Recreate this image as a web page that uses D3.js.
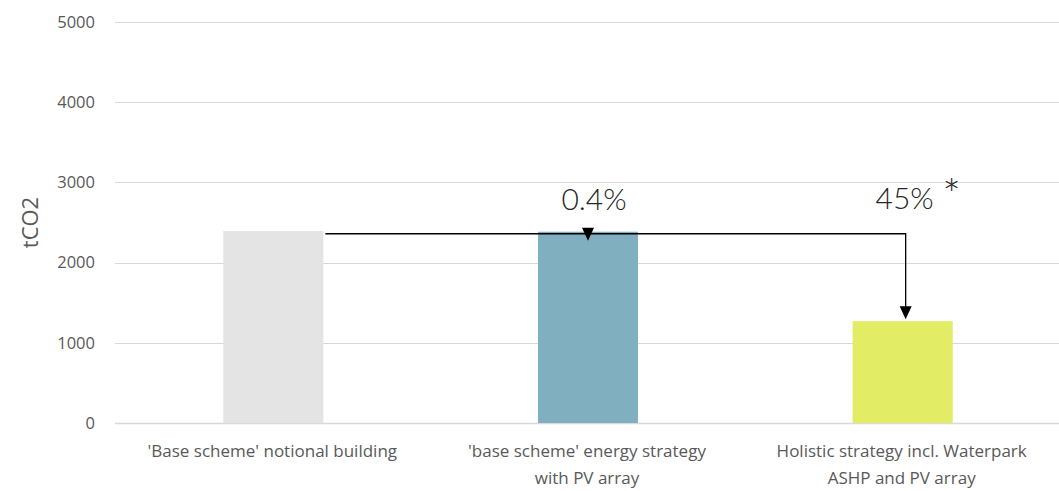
<!DOCTYPE html>
<html>
<head>
<meta charset="utf-8">
<script src="https://cdn.jsdelivr.net/npm/d3@7"></script>
<style>
  html, body { margin: 0; padding: 0; background: #fff; }
  svg { display: block; }
</style>
</head>
<body>
<svg id="chart" width="1059" height="491"></svg>
<script>
// Emissions per scheme (tCO2)
const categories = [
  ["'Base scheme' notional building"],
  ["'base scheme' energy strategy", "with PV array"],
  ["Holistic strategy incl. Waterpark", "ASHP and PV array"]
];
const values = [2395, 2385, 1270];
const colors = ["#e4e4e4", "#80afc0", "#e2ec64"];
const yTicks = [0, 1000, 2000, 3000, 4000, 5000];
// Reduction callouts relative to the base scheme
const savingLabels = ["0.4%", "45%"];
const connectorLevel = 2360;

const svg = d3.select("#chart");
const W = 1059, H = 491;
const margin = { left: 115, right: 0, top: 22, bottom: 68 };

const x = d3.scaleBand()
  .domain(d3.range(categories.length))
  .range([margin.left, W - margin.right])
  .padding(0);

const y = d3.scaleLinear()
  .domain([0, 5000])
  .range([H - margin.bottom, margin.top]);

const barW = x.bandwidth() * 0.318;
const textColor = "#595959";

// Gridlines
svg.append("g")
  .selectAll("line")
  .data(yTicks)
  .join("line")
  .attr("x1", margin.left)
  .attr("x2", W)
  .attr("y1", d => Math.round(y(d)) + 0.5)
  .attr("y2", d => Math.round(y(d)) + 0.5)
  .attr("stroke", "#d9d9d9")
  .attr("stroke-width", d => d === 0 ? 1.5 : 1);

// Y axis tick labels
const yAxis = d3.axisLeft(y).tickValues(yTicks).tickFormat(d3.format("d")).tickSize(0).tickPadding(0);
const gy = svg.append("g")
  .attr("transform", `translate(${margin.left - 20},0)`)
  .call(yAxis);
gy.select(".domain").remove();
gy.selectAll("text")
  .attr("font-family", "Open Sans, sans-serif")
  .attr("font-size", 16.5)
  .attr("fill", textColor);

// Y axis title
svg.append("text")
  .attr("transform", `translate(38,${(y(2000) + y(3000)) / 2}) rotate(-90)`)
  .attr("text-anchor", "middle")
  .attr("font-family", "Open Sans, sans-serif")
  .attr("font-size", 22)
  .attr("fill", textColor)
  .text("tCO2");

// Bars
svg.append("g")
  .selectAll("rect")
  .data(values)
  .join("rect")
  .attr("x", (d, i) => x(i) + (x.bandwidth() - barW) / 2 + 1)
  .attr("y", d => y(d))
  .attr("width", barW)
  .attr("height", d => y(0) - y(d))
  .attr("fill", (d, i) => colors[i]);

// Category labels
const catG = svg.append("g");
categories.forEach((lines, i) => {
  const t = catG.append("text")
    .attr("x", x(i) + x.bandwidth() / 2)
    .attr("y", 457)
    .attr("text-anchor", "middle")
    .attr("font-family", "Open Sans, sans-serif")
    .attr("font-size", 17)
    .attr("fill", textColor);
  lines.forEach((ln, k) => {
    t.append("tspan")
      .attr("x", x(i) + x.bandwidth() / 2)
      .attr("dy", k === 0 ? 0 : 27)
      .text(ln);
  });
});

// Connector from base bar across to the holistic bar
const cx1 = x(0) + (x.bandwidth() + barW) / 2 + 3;
const cx2 = x(1) + x.bandwidth() / 2 + 1;
const cx3 = x(2) + x.bandwidth() / 2 + 4;
const lineY = y(connectorLevel);

svg.append("path")
  .attr("d", `M${cx1},${lineY}H${cx3}V${y(values[2]) - 13}`)
  .attr("fill", "none")
  .attr("stroke", "#000")
  .attr("stroke-width", 1.3);

// Arrow heads
function arrowHead(cx, tipY) {
  svg.append("path")
    .attr("d", `M${cx - 6},${tipY - 13}L${cx + 6},${tipY - 13}L${cx},${tipY}Z`)
    .attr("fill", "#000");
}
arrowHead(cx2, lineY + 7);
arrowHead(cx3, y(values[2]) - 2);

// Saving labels
const calloutFont = { family: "Lato, sans-serif", weight: 300, size: 30, fill: "#262626" };
function callout(cx, baseY, txt, size) {
  svg.append("text")
    .attr("x", cx)
    .attr("y", baseY)
    .attr("text-anchor", "middle")
    .attr("font-family", calloutFont.family)
    .attr("font-weight", calloutFont.weight)
    .attr("font-size", size || calloutFont.size)
    .attr("fill", calloutFont.fill)
    .text(txt);
}
callout(cx2 + 6, 210, savingLabels[0]);
callout(cx3 - 1, 209, savingLabels[1]);
callout(cx3 + 46, 211, "*", 44);
</script>
</body>
</html>
